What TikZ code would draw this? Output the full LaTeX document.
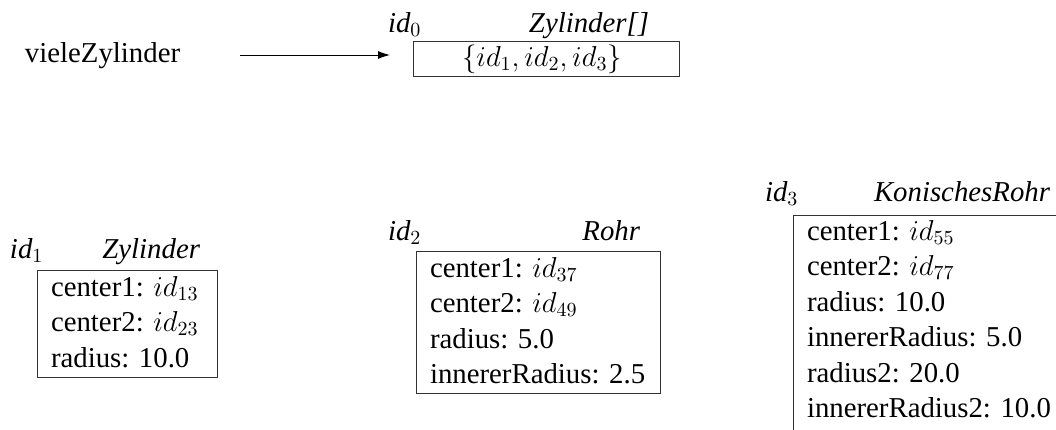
\documentclass[tikz,border=0pt]{standalone}
\usepackage{fontspec}
\setmainfont{Liberation Serif}
\usetikzlibrary{arrows.meta}
\begin{document}
\begin{tikzpicture}[x=0.5pt,y=-0.5pt,
  every node/.style={inner sep=0pt,outer sep=0pt,font=\fontsize{14.4}{17.75}\selectfont},
  objbox/.style={draw=black!80,line width=0.5pt,anchor=north west},
  idlbl/.style={anchor=base west,font=\fontsize{14.4}{17.75}\selectfont\itshape},
  cls/.style={anchor=base east,font=\fontsize{14.4}{17.75}\selectfont\itshape},
  attr/.style={anchor=base west},
  ref/.style={-{Latex[length=6pt,width=4pt]},line width=0.5pt}]
\useasboundingbox (0,0) rectangle (1056,429);

% variable and reference
\node[anchor=base west] (vz) at (25,62) {vieleZylinder};
\coordinate (as) at (240,55);
\coordinate (ae) at (390,55);
\draw[ref] (as) -- (ae);

% array object
\node[idlbl] (id0) at (388,32) {id$_0$};
\node[cls] (c0) at (649,32) {Zylinder[]};
\node[objbox,minimum width=133pt,minimum height=17.5pt] (b0) at (413,41) {};
\node[anchor=base] (v0) at (542,66) {$\{id_1, id_2, id_3\}$};

% Zylinder
\node[idlbl] (id1) at (10,258) {id$_1$};
\node[cls] (c1) at (200,258) {Zylinder};
\node[objbox,minimum width=90pt,minimum height=53.5pt] (b1) at (37,270) {};
\node[attr] (b1a) at (51,296) {center1: $id_{13}$};
\node[attr] (b1b) at (51,331.5) {center2: $id_{23}$};
\node[attr] (b1c) at (51,367) {radius: 10.0};

% Rohr
\node[idlbl] (id2) at (388,240) {id$_2$};
\node[cls] (c2) at (640,240) {Rohr};
\node[objbox,minimum width=122pt,minimum height=71pt] (b2) at (416,251) {};
\node[attr] (b2a) at (430,277) {center1: $id_{37}$};
\node[attr] (b2b) at (430,312.5) {center2: $id_{49}$};
\node[attr] (b2c) at (430,348) {radius: 5.0};
\node[attr] (b2d) at (430,383.5) {innererRadius: 2.5};

% KonischesRohr
\node[idlbl] (id3) at (765,201) {id$_3$};
\node[cls] (c3) at (1050,201) {KonischesRohr};
\node[objbox,minimum width=150pt,minimum height=120pt] (b3) at (793,215) {};
\node[attr] (b3a) at (807,240) {center1: $id_{55}$};
\node[attr] (b3b) at (807,275.5) {center2: $id_{77}$};
\node[attr] (b3c) at (807,311) {radius: 10.0};
\node[attr] (b3d) at (807,346.5) {innererRadius: 5.0};
\node[attr] (b3e) at (807,382) {radius2: 20.0};
\node[attr] (b3f) at (807,417.5) {innererRadius2: 10.0};
\end{tikzpicture}
\end{document}
